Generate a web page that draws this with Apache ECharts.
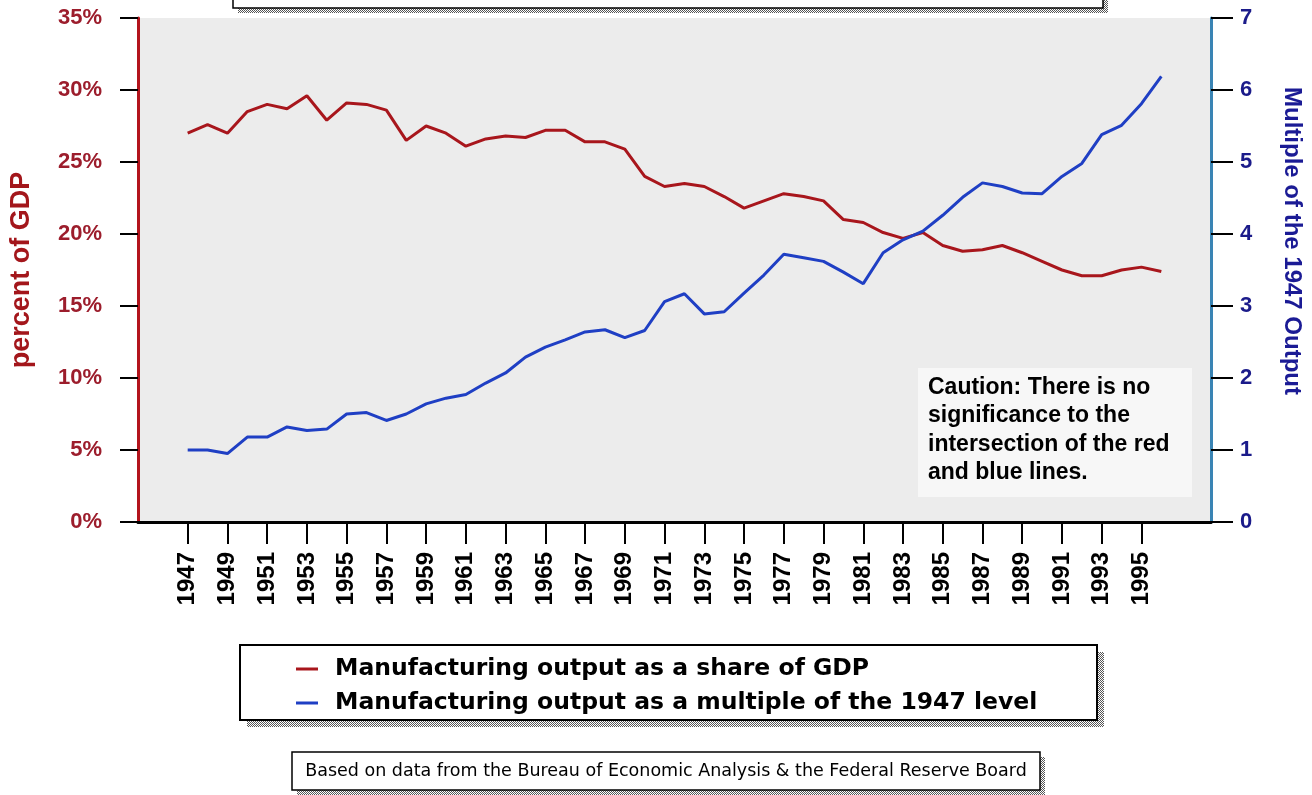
<!DOCTYPE html>
<html>
<head>
<meta charset="utf-8">
<script src="https://cdn.jsdelivr.net/npm/echarts@6/dist/echarts.min.js"></script>
<style>
html,body{margin:0;padding:0;background:#fff;}
#chart{width:1312px;height:795px;}
</style>
</head>
<body>
<div id="chart"></div>
<script>
// ---- data ----
var years = [1947,1948,1949,1950,1951,1952,1953,1954,1955,1956,1957,1958,1959,1960,1961,1962,1963,1964,1965,1966,1967,1968,1969,1970,1971,1972,1973,1974,1975,1976,1977,1978,1979,1980,1981,1982,1983,1984,1985,1986,1987,1988,1989,1990,1991,1992,1993,1994,1995,1996];
var shareOfGDP = [27.0,27.6,27.0,28.5,29.0,28.7,29.6,27.9,29.1,29.0,28.6,26.5,27.5,27.0,26.1,26.6,26.8,26.7,27.2,27.2,26.4,26.4,25.9,24.0,23.3,23.5,23.3,22.6,21.8,22.3,22.8,22.6,22.3,21.0,20.8,20.1,19.7,20.1,19.2,18.8,18.9,19.2,18.7,18.1,17.5,17.1,17.1,17.5,17.7,17.4];
var multipleOf1947 = [1.0,1.0,0.95,1.18,1.18,1.32,1.27,1.29,1.50,1.52,1.41,1.50,1.64,1.72,1.77,1.93,2.07,2.29,2.43,2.53,2.64,2.67,2.56,2.66,3.06,3.17,2.89,2.92,3.18,3.43,3.72,3.67,3.62,3.47,3.31,3.74,3.92,4.04,4.26,4.51,4.71,4.66,4.57,4.56,4.80,4.98,5.38,5.51,5.81,6.19];
var padBefore = [1945,1946];
var padAfter = [1997,1998];
var leftTicks = [0,5,10,15,20,25,30,35];
var rightTicks = [0,1,2,3,4,5,6,7];
var seriesNames = ['Manufacturing output as a share of GDP','Manufacturing output as a multiple of the 1947 level'];
var leftAxisName = 'percent of GDP';
var rightAxisName = 'Multiple of the 1947 Output';
var cautionText = 'Caution: There is no\nsignificance to the\nintersection of the red\nand blue lines.';
var sourceText = 'Based on data from the Bureau of Economic Analysis & the Federal Reserve Board';

// ---- build ----
var categories = padBefore.concat(years).concat(padAfter).map(String);
function pad(arr){
  return padBefore.map(function(){return null;}).concat(arr).concat(padAfter.map(function(){return null;}));
}
function showYear(idx, val){
  var y = parseInt(val,10);
  return y >= 1947 && y <= 1995 && (y % 2 === 1);
}
var FONT = '"Liberation Sans", Arial, Helvetica, sans-serif';
var WIDE = '"DejaVu Sans", Verdana, sans-serif';

// dithered shadow pattern
var pc = document.createElement('canvas');
pc.width = 2; pc.height = 2;
var pctx = pc.getContext('2d');
pctx.fillStyle = '#ffffff'; pctx.fillRect(0,0,2,2);
pctx.fillStyle = '#555555'; pctx.fillRect(0,0,1,1); pctx.fillRect(1,1,1,1);
var shadowFill = {image: pc, repeat: 'repeat'};

function boxWithShadow(x,y,w,h,off,lw){
  return [
    {type:'rect', shape:{x:x+off,y:y+off,width:w,height:h}, style:{fill:shadowFill}, z:100, silent:true},
    {type:'rect', shape:{x:x,y:y,width:w,height:h}, style:{fill:'#ffffff', stroke:'#000000', lineWidth:lw}, z:101, silent:true}
  ];
}

var chart = echarts.init(document.getElementById('chart'), null, {renderer:'canvas'});
var graphics = []
  .concat(boxWithShadow(233,-40,870,48,5,1.5))
  .concat(boxWithShadow(240,645,857,75,7,2))
  .concat(boxWithShadow(292,752,748,38,5,1.5))
  .concat([
    {type:'rect', shape:{x:918,y:368,width:274,height:129}, style:{fill:'#f7f7f7'}, z:50, silent:true},
    {type:'text', left:928, top:373, z:51, silent:true,
      style:{text:cautionText, fill:'#000', font:'bold 23px '+FONT, lineHeight:28.5}},
    {type:'text', x:666, y:771, z:102, silent:true,
      style:{text:sourceText, fill:'#000', font:'17.5px '+WIDE, align:'center', verticalAlign:'middle'}}
  ]);

chart.setOption({
  animation:false,
  backgroundColor:'#ffffff',
  textStyle:{fontFamily:FONT},
  grid:{left:136, right:98, top:18, bottom:273, show:true, backgroundColor:'#ececec', borderWidth:0, containLabel:false},
  legend:{
    data:seriesNames,
    orient:'vertical',
    left:296, top:657,
    icon:'rect',
    itemWidth:22, itemHeight:3, itemGap:10,
    padding:0,
    z:110,
    textStyle:{fontSize:23.5, fontWeight:'bold', color:'#000', fontFamily:WIDE, padding:[0,0,0,12]}
  },
  xAxis:{
    type:'category',
    data:categories,
    boundaryGap:true,
    axisLine:{show:true, lineStyle:{color:'#000', width:3}},
    axisTick:{show:true, alignWithLabel:true, interval:showYear, length:22, lineStyle:{color:'#000', width:2}},
    axisLabel:{interval:showYear, rotate:90, margin:30, fontSize:24, fontWeight:'bold', color:'#000', fontFamily:FONT},
    splitLine:{show:false}
  },
  yAxis:[
    {
      type:'value', position:'left', min:leftTicks[0], max:leftTicks[leftTicks.length-1], interval:5,
      name:leftAxisName, nameLocation:'middle', nameRotate:90, nameGap:103,
      nameTextStyle:{fontSize:27, fontWeight:'bold', color:'#a3161b', fontFamily:FONT},
      axisLine:{show:true, lineStyle:{color:'#b3141c', width:3}},
      axisTick:{show:true, length:18, lineStyle:{color:'#000', width:2}},
      axisLabel:{formatter:'{value}%', margin:36, fontSize:22, fontWeight:'bold', color:'#9c1d2c', fontFamily:FONT},
      splitLine:{show:false}
    },
    {
      type:'value', position:'right', min:rightTicks[0], max:rightTicks[rightTicks.length-1], interval:1,
      name:rightAxisName, nameLocation:'middle', nameRotate:-90, nameGap:69,
      nameTextStyle:{fontSize:24, fontWeight:'bold', color:'#1b1b95', fontFamily:FONT, padding:[0,58,0,0]},
      axisLine:{show:true, lineStyle:{color:'#3a84b4', width:3}},
      axisTick:{show:true, length:22, lineStyle:{color:'#000', width:2}},
      axisLabel:{margin:29, fontSize:22, fontWeight:'bold', color:'#1b1b8a', fontFamily:FONT},
      splitLine:{show:false}
    }
  ],
  series:[
    {name:seriesNames[0], type:'line', yAxisIndex:0, data:pad(shareOfGDP), showSymbol:false, symbol:'none',
      lineStyle:{color:'#a8161c', width:3}, itemStyle:{color:'#a8161c'}, connectNulls:false, z:5},
    {name:seriesNames[1], type:'line', yAxisIndex:1, data:pad(multipleOf1947), showSymbol:false, symbol:'none',
      lineStyle:{color:'#1f3fc4', width:3}, itemStyle:{color:'#1f3fc4'}, connectNulls:false, z:6}
  ],
  graphic:graphics
});
</script>
</body>
</html>
